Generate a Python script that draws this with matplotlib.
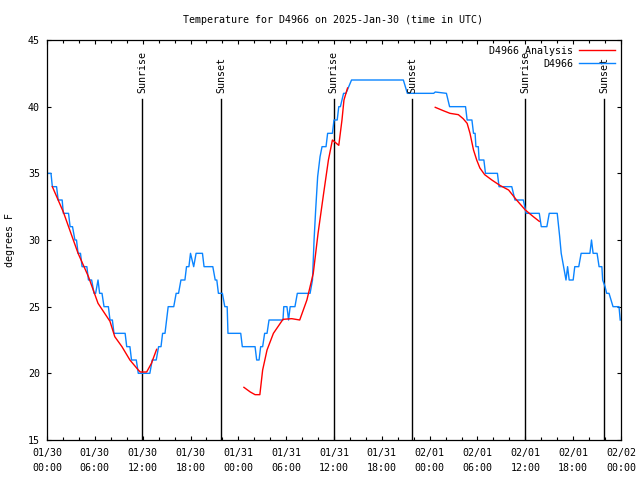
import numpy as np
import matplotlib
matplotlib.use("Agg")
import matplotlib.pyplot as plt

# ---- data (hours since 2025-01-30 00:00 UTC) ----
obs_t = [0, 0.5, 0.67, 1.2, 1.4, 1.9, 2.05, 2.7, 2.9, 3.2, 3.5, 3.7, 3.9, 4.2, 4.4, 5.0,
         5.2, 5.6, 5.9, 6.1, 6.4, 6.6, 6.9, 7.15, 7.7, 7.9, 8.2, 8.4, 9.8, 10.0, 10.4,
         10.6, 11.2, 11.45, 12.9, 13.2, 13.7, 14.0, 14.3, 14.5, 14.8, 15.0, 15.2, 15.9,
         16.2, 16.5, 16.8, 17.3, 17.5, 17.8, 18.0, 18.4, 18.7, 19.5, 19.7, 20.8, 21.1,
         21.3, 21.5, 22.0, 22.3, 22.6, 22.7, 24.3, 24.5, 26.1, 26.3, 26.6, 26.8, 27.05,
         27.3, 27.6, 27.85, 29.6, 29.7, 30.1, 30.3, 30.5, 31.1, 31.4, 33.0, 33.3, 33.5,
         33.7, 33.95, 34.25, 34.5, 35.0, 35.2, 35.8, 36.0, 36.4, 36.6, 36.8, 37.2, 37.5,
         38.2, 44.7, 45.2, 48.5, 48.7, 50.1, 50.5, 52.5, 52.7, 53.3, 53.5, 53.7, 53.8,
         54.1, 54.2, 54.8, 55.0, 56.5, 56.7, 58.3, 58.7, 59.75, 60.1, 61.75, 62.0, 62.7,
         63.0, 64.0, 64.3, 64.5, 64.8, 65.1, 65.3, 65.5, 66.0, 66.2, 66.7, 67.0, 68.1,
         68.3, 68.5, 69.0, 69.25, 69.6, 69.7, 70.0, 70.2, 70.5, 71.0, 71.75, 71.9]
obs_v = [35, 35, 34, 34, 33, 33, 32, 32, 31, 31, 30, 30, 29, 29, 28, 28,
         27, 27, 26, 26, 27, 26, 26, 25, 25, 24, 24, 23, 23, 22, 22,
         21, 21, 20, 20, 21, 21, 22, 22, 23, 23, 24, 25, 25,
         26, 26, 27, 27, 28, 28, 29, 28, 29, 29, 28, 28, 27,
         27, 26, 26, 25, 25, 23, 23, 22, 22, 21, 21, 22, 22,
         23, 23, 24, 24, 25, 25, 24, 25, 25, 26, 26, 27, 30,
         32.25, 34.75, 36.25, 37, 37, 38, 38, 39, 39, 40, 40, 41, 41,
         42, 42, 41, 41, 41.1, 41, 40, 40, 39, 39, 38, 38, 37,
         37, 36, 36, 35, 35, 34, 34, 33, 33, 32, 32, 31, 31,
         32, 32, 30.3, 29, 28, 27, 28, 27, 27, 28, 28, 29, 29,
         30, 29, 29, 28, 28, 27, 26.5, 26, 26, 25, 25, 24]

ana_t = [0.67, 2.05, 3.3, 3.9, 5.2, 6.4, 7.9, 8.5, 9.4, 10.4, 11.45, 11.7, 12.5, 13.1, 13.75,
         np.nan,
         24.7, 25.5, 26.1, 26.7, 27.05, 27.6, 28.4, 29.6, 30.7, 31.7, 32.6, 33.4, 34.0,
         34.7, 35.3, 35.8, 36.0, 36.6, 37.0, 37.25, 37.7,
         np.nan,
         48.7, 49.7, 50.55, 51.6, 52.2, 52.7, 53.06, 53.5, 53.9, 54.3, 54.9, 55.8, 56.8,
         57.9, 58.9, 60.0, 61.0, 61.75]
ana_v = [34.0, 32.1, 30.0, 29.0, 27.25, 25.25, 23.9, 22.75, 22.0, 21.0, 20.25, 20.1, 20.1, 20.75, 21.8,
         np.nan,
         18.95, 18.6, 18.4, 18.4, 20.25, 21.75, 23.0, 24.05, 24.1, 24.0, 25.5, 27.5, 30.5,
         33.5, 36.0, 37.5, 37.4, 37.1, 39.0, 40.5, 41.4,
         np.nan,
         39.95, 39.7, 39.5, 39.4, 39.1, 38.75, 38.0, 36.75, 36.0, 35.4, 34.9, 34.5, 34.1,
         33.75, 33.0, 32.25, 31.75, 31.4]

sun_t = [11.93, 21.83, 35.95, 45.83, 59.97, 69.87]
sun_lbl = ["Sunrise", "Sunset", "Sunrise", "Sunset", "Sunrise", "Sunset"]

xtick_pos = [0, 6, 12, 18, 24, 30, 36, 42, 48, 54, 60, 66, 72]
xtick_lbl = ["01/30\n00:00", "01/30\n06:00", "01/30\n12:00", "01/30\n18:00",
             "01/31\n00:00", "01/31\n06:00", "01/31\n12:00", "01/31\n18:00",
             "02/01\n00:00", "02/01\n06:00", "02/01\n12:00", "02/01\n18:00",
             "02/02\n00:00"]
ytick_pos = [15, 20, 25, 30, 35, 40, 45]

# ---- drawing ----
FONT = "DejaVu Sans Mono"
FS = 7.2
plt.rcParams['font.family'] = FONT

fig = plt.figure(figsize=(6.4, 4.8), dpi=100)
ax = fig.add_axes([47/640, 40/480, (621-47)/640, 400/480])

ax.plot(ana_t, ana_v, color="#ff0000", lw=1.0, label="D4966 Analysis", zorder=3)
ax.plot(obs_t, obs_v, color="#0a84ff", lw=1.0, label="D4966", zorder=2)

for t, lbl in zip(sun_t, sun_lbl):
    ax.plot([t, t], [15, 40.6], color="black", lw=1.0, zorder=1)
    ax.text(t, 41.05, lbl, rotation=90, ha="center", va="bottom",
            fontsize=FS, family=FONT)

ax.set_xlim(0, 72)
ax.set_ylim(15, 45)
ax.set_xticks(xtick_pos)
ax.set_xticklabels(xtick_lbl, fontsize=FS, linespacing=1.6)
ax.set_xticks(np.arange(0, 73, 2), minor=True)
ax.set_yticks(ytick_pos)
ax.set_yticklabels([str(v) for v in ytick_pos], fontsize=FS)
ax.tick_params(which="both", direction="in", top=True, right=True, width=0.8)
ax.tick_params(which="major", length=3.0)
ax.tick_params(which="minor", length=2.0)
ax.tick_params(axis="x", which="major", pad=6)
ax.tick_params(axis="y", which="major", pad=5)
for s in ax.spines.values():
    s.set_linewidth(0.9)

leg = ax.legend(loc="upper right", frameon=False, markerfirst=False, fontsize=FS,
                handlelength=3.6, handletextpad=0.6, labelspacing=0.3,
                borderaxespad=0.2)
for txt in leg.get_texts():
    txt.set_ha("right")

fig.text(333/640, 1 - 20/480, "Temperature for D4966 on 2025-Jan-30 (time in UTC)",
         ha="center", va="center", fontsize=FS)
fig.text(10/640, 0.5, "degrees F", rotation=90, ha="center", va="center", fontsize=FS)

fig.savefig("out.png", dpi=100)
